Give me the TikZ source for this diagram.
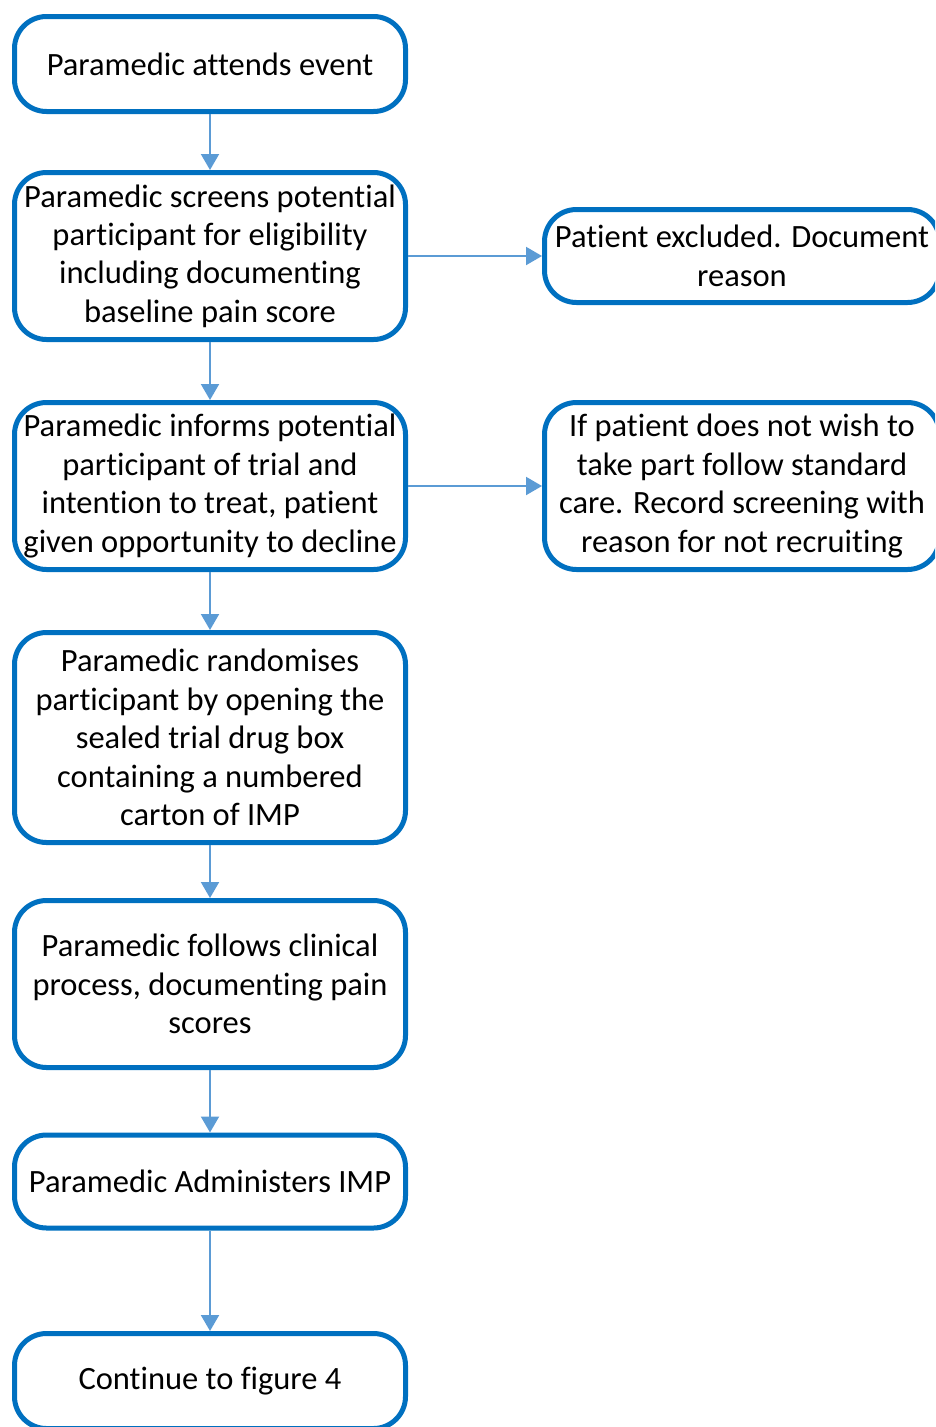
\documentclass[tikz,border=0pt]{standalone}
\usepackage{fontspec}
\setmainfont[Ligatures=NoCommon]{Carlito}
\usetikzlibrary{arrows.meta}
\definecolor{boxblue}{RGB}{0,112,192}
\definecolor{arrowblue}{RGB}{91,155,213}
\begin{document}
\begin{tikzpicture}[x=1pt,y=-1pt,
  flowbox/.style={draw=boxblue, line width=5pt, fill=white, rounded corners=32pt,
    minimum width=391pt, align=center, inner sep=0pt,
    font=\fontsize{32.5}{38.4}\selectfont},
  flowarrow/.style={draw=arrowblue, line width=2pt, -{Triangle[length=16pt,width=18pt]}}]
\useasboundingbox (0,0) rectangle (935,1427);
\clip (0,0) rectangle (935,1427);
\node[flowbox, minimum height=95pt] (a) at (210,64) {Paramedic attends event};
\node[flowbox, minimum height=167pt] (b) at (210,256) {Paramedic screens potential\\participant for eligibility\\including documenting\\baseline pain score};
\node[flowbox, minimum height=167pt] (c) at (210,486) {Paramedic informs potential\\participant of trial and\\intention to treat, patient\\given opportunity to decline};
\node[flowbox, minimum height=210pt] (d) at (210,737.5) {Paramedic randomises\\participant by opening the\\sealed trial drug box\\containing a numbered\\carton of IMP};
\node[flowbox, minimum height=167pt] (e) at (210,984) {Paramedic follows clinical\\process, documenting pain\\scores};
\node[flowbox, minimum height=93pt] (f) at (210,1181.5) {Paramedic Administers IMP};
\node[flowbox, minimum height=95pt] (g) at (210,1381) {Continue to figure 4};
\node[flowbox, minimum height=93pt, minimum width=395pt] (x) at (742,256) {Patient excluded. Document\\reason};
\node[flowbox, minimum height=167pt, minimum width=395pt] (y) at (742,486) {If patient does not wish to\\take part follow standard\\care. Record screening with\\reason for not recruiting};
\draw[flowarrow] (a.south) -- (b.north);
\draw[flowarrow] (b.south) -- (c.north);
\draw[flowarrow] (c.south) -- (d.north);
\draw[flowarrow] (d.south) -- (e.north);
\draw[flowarrow] (e.south) -- (f.north);
\draw[flowarrow] (f.south) -- (g.north);
\draw[flowarrow] (b.east) -- (x.west);
\draw[flowarrow] (c.east) -- (y.west);
\end{tikzpicture}
\end{document}
